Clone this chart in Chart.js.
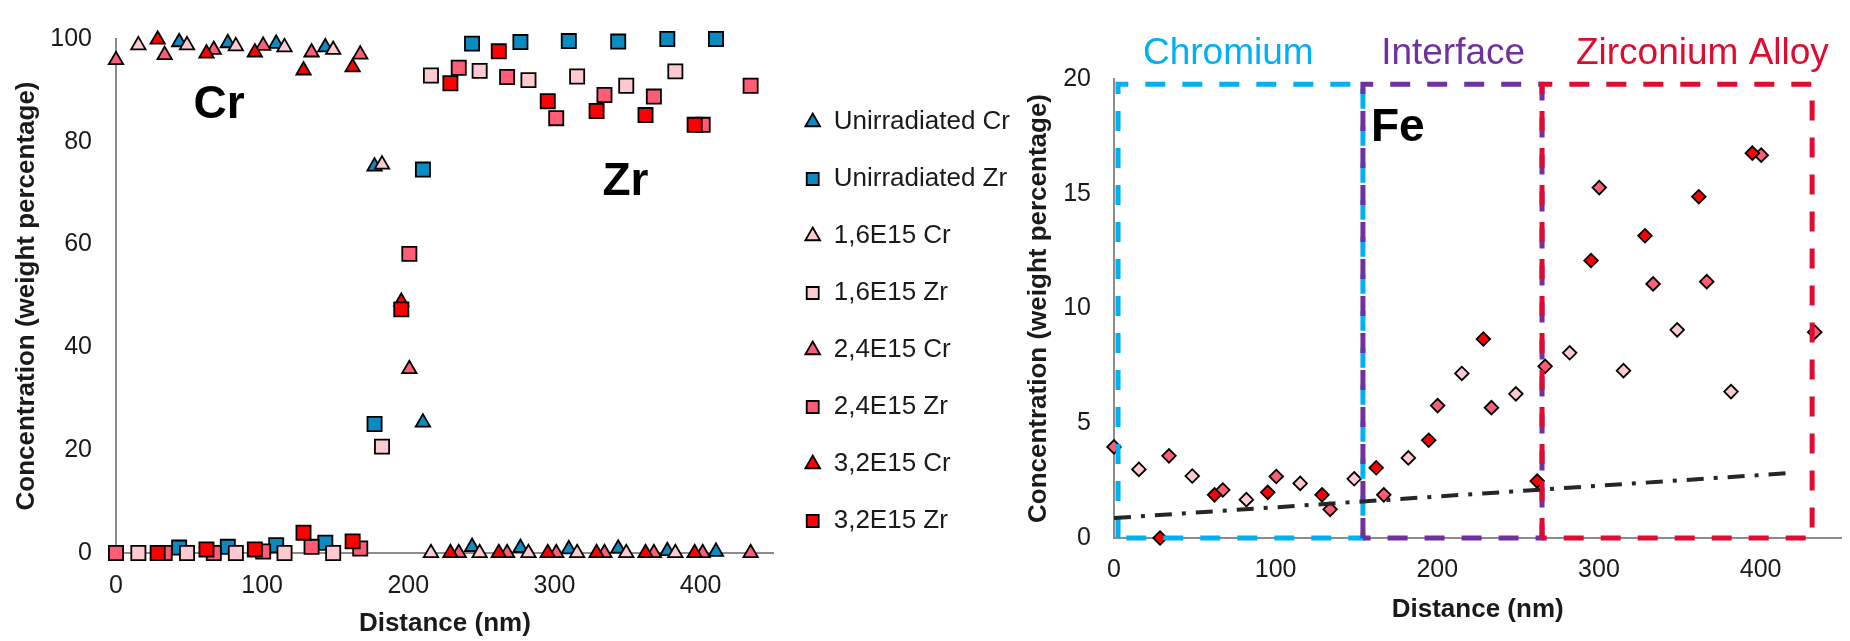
<!DOCTYPE html>
<html>
<head>
<meta charset="utf-8">
<script src="https://cdn.jsdelivr.net/npm/chart.js@4.4.1/dist/chart.umd.min.js"></script>
<style>
  body { margin: 0; background: #fff; overflow: hidden; }
  canvas { position: absolute; top: 0; }
  #left { left: 0; }
  #right { left: 1020px; }
</style>
</head>
<body>
<canvas id="left" width="1020" height="641"></canvas>
<canvas id="right" width="830" height="641"></canvas>
<script>
// Left panel: Cr / Zr concentration (weight %) vs distance (nm)
const seriesNames = ["Unirradiated Cr", "Unirradiated Zr", "1,6E15 Cr", "1,6E15 Zr", "2,4E15 Cr", "2,4E15 Zr", "3,2E15 Cr", "3,2E15 Zr"];

const xUnirr = [43.2, 76.5, 109.6, 143.2, 176.9, 210, 243.6, 276.7, 309.8, 343.6, 377.2, 410.5];
const yUnirrCr = [99.4, 99.2, 99.1, 98.4, 75.2, 25.4, 1.2, 1.0, 0.75, 0.88, 0.38, 0.25];
const yUnirrZr = [1.06, 1.2, 1.5, 2.0, 25.1, 74.6, 99.1, 99.4, 99.6, 99.5, 100, 100];

const x16 = [15.3, 48.6, 82, 115.3, 148.6, 182, 215.5, 248.8, 282.2, 315.5, 349.1, 382.7];
const y16Cr = [98.8, 98.8, 98.6, 98.4, 97.9, 75.6, 0, 0, 0, 0, 0, 0];
const y16Zr = [0, 0, 0, 0, 0, 20.7, 92.9, 93.8, 92.0, 92.7, 90.9, 93.7];

const x24 = [0, 33.3, 66.9, 100.7, 133.8, 167.1, 200.7, 234.5, 267.6, 301.2, 334.2, 368, 401.4, 434.2];
const y24Cr = [95.9, 96.9, 97.9, 98.7, 97.4, 97.0, 35.8, 0, 0, 0, 0, 0, 0, 0];
const y24Zr = [0, 0, 0, 0.3, 1.2, 0.88, 58.2, 94.4, 92.6, 84.6, 89.1, 88.8, 83.3, 90.9];

const x32 = [28.5, 61.9, 95, 128.3, 161.9, 195.2, 228.8, 261.9, 295.4, 328.8, 362.3, 395.9];
const y32Cr = [99.9, 97.2, 97.4, 93.9, 94.5, 48.9, 0, 0, 0, 0, 0, 0];
const y32Zr = [0, 0.69, 0.69, 3.95, 2.26, 47.4, 91.4, 97.6, 87.9, 86.0, 85.2, 83.3];

const leftTicksX = [0, 100, 200, 300, 400];
const leftTicksY = [0, 20, 40, 60, 80, 100];

// Right panel: Fe concentration
const feNames = ["1,6E15 Fe", "2,4E15 Fe", "3,2E15 Fe"];
const xFe16 = [15.4, 48.4, 81.9, 115.2, 148.6, 182.1, 215.2, 248.6, 281.9, 315.2, 348.4, 381.7];
const yFe16 = [2.99, 2.70, 1.67, 2.38, 2.58, 3.49, 7.17, 6.28, 8.07, 7.29, 9.07, 6.38];
const xFe24 = [0, 34, 67.3, 100.4, 133.7, 166.9, 200.2, 233.5, 266.7, 300.2, 333.5, 366.7, 400.4, 433.5];
const yFe24 = [3.97, 3.58, 2.09, 2.68, 1.25, 1.88, 5.77, 5.68, 7.48, 15.27, 11.07, 11.17, 16.68, 8.97];
const xFe32 = [28.5, 62.2, 95.1, 128.7, 162.2, 194.7, 228.5, 261.8, 295.1, 328.5, 361.8, 394.9];
const yFe32 = [0, 1.88, 1.99, 1.88, 3.06, 4.26, 8.67, 2.48, 12.09, 13.17, 14.87, 16.77];

const trendX = [0, 418];
const trendY = [0.87, 2.83];

const regionNames = ["Chromium", "Interface", "Zirconium Alloy"];
const regionStart = [2.5, 154, 264.8];
const regionEnd = [154, 264.8, 431.9];
const regionTop = 19.77;

const rightTicksX = [0, 100, 200, 300, 400];
const rightTicksY = [0, 5, 10, 15, 20];

Chart.defaults.font.family = "'Liberation Sans', Arial, sans-serif";
Chart.defaults.color = '#1a1a1a';

const blue = '#0A8BC2', light = '#FFC9D1', medium = '#FF5C75', red = '#FF0000';
const regionColors = ['#00B0F0', '#7030A0', '#E00B30'];

function pts(xs, ys) {
  return xs.map((x, i) => ({x: x, y: ys[i]}));
}

// draws text labels placed in data coordinates
function textPlugin(items) {
  return {
    id: 'textLabels',
    afterDatasetsDraw(chart) {
      const {ctx, scales: {x, y}} = chart;
      ctx.save();
      items.forEach(it => {
        ctx.font = it.font;
        ctx.fillStyle = it.color;
        ctx.textAlign = it.align;
        ctx.textBaseline = 'alphabetic';
        ctx.fillText(it.text, x.getPixelForValue(it.x), y.getPixelForValue(it.y));
      });
      ctx.restore();
    }
  };
}

function axis(min, max, step, ticks, tickPad, title, titlePad, fit) {
  return {
    type: 'linear', min: min, max: max,
    grid: {display: false, drawTicks: false},
    border: {color: '#8c8c8c', width: 2},
    afterBuildTicks: s => { s.ticks = ticks.map(v => ({value: v})); },
    ticks: {stepSize: step, padding: tickPad, font: {size: 25}, color: '#1a1a1a', maxRotation: 0},
    title: {display: true, text: title, font: {size: 26, weight: 'bold'}, color: '#1a1a1a', padding: titlePad},
    afterFit: fit
  };
}

// ---------- left chart ----------
const leftSeries = [
  [xUnirr, yUnirrCr, blue, 'triangle'],
  [xUnirr, yUnirrZr, blue, 'rect'],
  [x16, y16Cr, light, 'triangle'],
  [x16, y16Zr, light, 'rect'],
  [x24, y24Cr, medium, 'triangle'],
  [x24, y24Zr, medium, 'rect'],
  [x32, y32Cr, red, 'triangle'],
  [x32, y32Zr, red, 'rect']
];

new Chart(document.getElementById('left'), {
  type: 'scatter',
  data: {
    datasets: leftSeries.map((s, i) => ({
      label: seriesNames[i],
      data: pts(s[0], s[1]),
      backgroundColor: s[2],
      borderColor: '#000',
      borderWidth: 1.8,
      pointStyle: s[3],
      pointRadius: s[3] === 'rect' ? 10 : 8.3,
      clip: false,
      order: leftSeries.length - i
    }))
  },
  options: {
    responsive: false,
    animation: false,
    events: [],
    layout: {padding: {top: 21, bottom: 19, left: 0, right: 0}},
    scales: {
      x: axis(0, 450, 100, leftTicksX, 18, 'Distance (nm)', {top: 0, bottom: -17}, s => { s.height = 69; }),
      y: axis(0, 100, 20, leftTicksY, 24, 'Concentration (weight percentage)', {top: 11, bottom: 0}, s => { s.width = 116; })
    },
    plugins: {
      tooltip: {enabled: false},
      legend: {
        position: 'right',
        reverse: true,
        labels: {usePointStyle: true, boxWidth: 16, boxHeight: 12, padding: 31, font: {size: 26}, color: '#1a1a1a'}
      }
    }
  },
  plugins: [textPlugin([
    {text: 'Cr', x: 70.5, y: 84.6, font: 'bold 46px "Liberation Sans", Arial', color: '#000', align: 'center'},
    {text: 'Zr', x: 348.6, y: 69.7, font: 'bold 46px "Liberation Sans", Arial', color: '#000', align: 'center'}
  ])]
});

// ---------- right chart ----------
const feSeries = [
  [xFe16, yFe16, light],
  [xFe24, yFe24, medium],
  [xFe32, yFe32, red]
];

const feDatasets = feSeries.map((s, i) => ({
  label: feNames[i],
  data: pts(s[0], s[1]),
  backgroundColor: s[2],
  borderColor: '#000',
  borderWidth: 1.8,
  pointStyle: 'rectRot',
  pointRadius: 6.8,
  clip: false,
  order: 20 - i
}));

const boxDatasets = regionNames.map((name, i) => ({
  label: name,
  data: pts([regionStart[i], regionStart[i], regionEnd[i], regionEnd[i], regionStart[i]], [0, regionTop, regionTop, 0, 0]),
  showLine: true,
  borderColor: regionColors[i],
  borderWidth: 5,
  borderDash: [20, 17],
  pointRadius: 0,
  fill: false,
  clip: false,
  order: 5 - i
}));

const trendDataset = {
  label: 'Trend',
  data: pts(trendX, trendY),
  showLine: true,
  borderColor: '#262626',
  borderWidth: 4,
  borderDash: [17, 10, 4, 10],
  pointRadius: 0,
  fill: false,
  clip: false,
  order: 0
};

new Chart(document.getElementById('right'), {
  type: 'scatter',
  data: {datasets: feDatasets.concat(boxDatasets, [trendDataset])},
  options: {
    responsive: false,
    animation: false,
    events: [],
    layout: {padding: {top: 79, bottom: 0, left: 0, right: 0}},
    scales: {
      x: axis(0, 450, 100, rightTicksX, 17, 'Distance (nm)', {top: 0, bottom: 16}, s => { s.height = 103; }),
      y: axis(0, 20, 5, rightTicksY, 23, 'Concentration (weight percentage)', {top: 3, bottom: 0}, s => { s.width = 94; })
    },
    plugins: {
      tooltip: {enabled: false},
      legend: {display: false}
    }
  },
  plugins: [textPlugin([
    {text: regionNames[0], x: 70.7, y: 20.65, font: '37px "Liberation Sans", Arial', color: regionColors[0], align: 'center'},
    {text: regionNames[1], x: 209.8, y: 20.65, font: '37px "Liberation Sans", Arial', color: regionColors[1], align: 'center'},
    {text: regionNames[2], x: 364, y: 20.65, font: '37px "Liberation Sans", Arial', color: regionColors[2], align: 'center'},
    {text: 'Fe', x: 159, y: 17.3, font: 'bold 46px "Liberation Sans", Arial', color: '#000', align: 'left'}
  ])]
});
</script>
</body>
</html>
